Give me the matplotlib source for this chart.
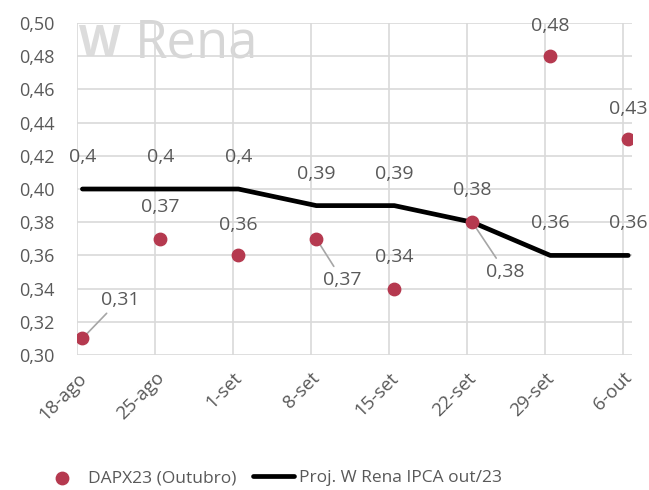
import numpy as np
import matplotlib
matplotlib.use("Agg")
import matplotlib.pyplot as plt
from matplotlib.ticker import FuncFormatter, MultipleLocator

plt.rcParams['font.family'] = ['Open Sans', 'DejaVu Sans']

datas = ['18-ago', '25-ago', '1-set', '8-set', '15-set', '22-set', '29-set', '6-out']
dapx = [0.31, 0.37, 0.36, 0.37, 0.34, 0.38, 0.48, 0.43]
proj = [0.40, 0.40, 0.40, 0.39, 0.39, 0.38, 0.36, 0.36]

cor_pt = '#B5394F'
cinza = '#595959'

def virg(v, dec=None):
    if dec is None:
        return ('%g' % v).replace('.', ',')
    return ('%.*f' % (dec, v)).replace('.', ',')

fig = plt.figure(figsize=(6.49, 4.9), dpi=100)
ax = fig.add_axes([0.1186, 0.2755, 0.974 - 0.1186, 0.953 - 0.2755])

x = np.arange(len(datas))
xs = x + 0.07  # pontos ficam um pouco deslocados da grade

ax.plot(xs, proj, color='black', lw=3.4, solid_capstyle='round', zorder=3,
        label='Proj. W Rena IPCA out/23', clip_on=False)
ax.scatter(xs, dapx, s=80, color=cor_pt, zorder=4, label='DAPX23 (Outubro)')

ax.set_xlim(0, 7.12)
ax.set_ylim(0.30, 0.50)
ax.yaxis.set_major_locator(MultipleLocator(0.02))
ax.yaxis.set_major_formatter(FuncFormatter(lambda v, p: virg(v, 2)))
ax.set_xticks(x)
ax.set_xticklabels(datas, rotation=45, ha='right', rotation_mode='anchor')
ax.tick_params(length=0, labelsize=13, colors=cinza)
ax.tick_params(axis='y', pad=16)
ax.tick_params(axis='x', labelsize=13.5, pad=10)
ax.grid(True, color='#d9d9d9', lw=1.2, zorder=0)
for s in ax.spines.values():
    s.set_visible(False)

# marca d'agua
ax.text(0.03, 0.487, 'W', fontsize=31, fontweight='bold', color='#dcdcdc',
        ha='left', va='center', zorder=1)
ax.text(0.74, 0.4875, 'Rena', fontsize=38, color='#d6d6d6',
        ha='left', va='center', zorder=1)

# rótulos da linha
for xi, v in zip(xs, proj):
    ax.annotate(virg(v), (xi, v), xytext=(0, 23), textcoords='offset points',
                ha='center', va='center', fontsize=14, color=cinza)

# rótulos dos pontos
desloc = [(27, 28), (0, 23), (0, 22), (19, -30), (0, 23), (24, -36), (0, 22), (0, 22)]
guia = [True, False, False, True, False, True, False, False]
for xi, v, d, g in zip(xs, dapx, desloc, guia):
    if g:
        ax.annotate(virg(v), (xi, v), xytext=d, textcoords='offset points',
                    ha='center', va='center', fontsize=14, color=cinza,
                    arrowprops=dict(arrowstyle='-', color='#a6a6a6', lw=1.2,
                                    shrinkA=2, shrinkB=0))
    else:
        ax.annotate(virg(v), (xi, v), xytext=d, textcoords='offset points',
                    ha='center', va='center', fontsize=14, color=cinza)

h, l = ax.get_legend_handles_labels()
fig.legend(h[::-1], l[::-1], loc='center', bbox_to_anchor=(272 / 649, 1 - 478 / 490),
           ncol=2, frameon=False, fontsize=12.5, labelcolor=cinza,
           handlelength=2.4, columnspacing=0.9, handletextpad=0.3)

fig.savefig('out.png', dpi=100)
